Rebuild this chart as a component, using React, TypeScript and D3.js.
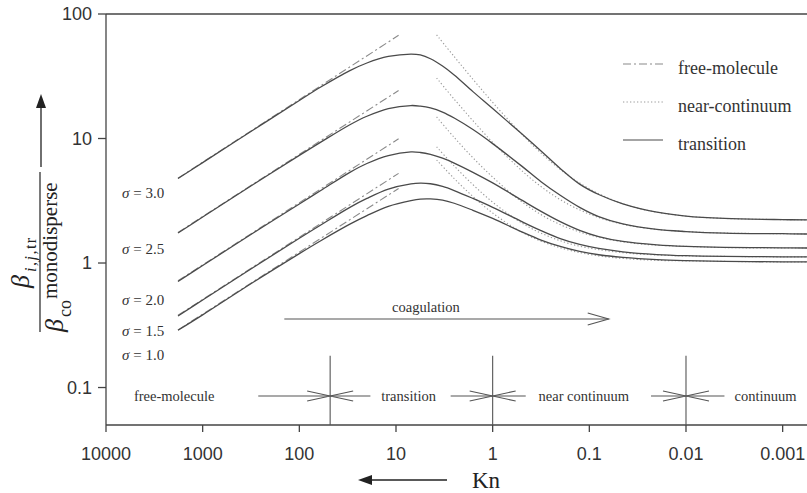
import React from "react";
import * as d3 from "d3";

// ---------- data ----------
const knTicks = [10000, 1000, 100, 10, 1, 0.1, 0.01, 0.001];
const knTickLabels = ["10000", "1000", "100", "10", "1", "0.1", "0.01", "0.001"];
const betaTicks = [0.1, 1, 10, 100];
const betaTickLabels = ["0.1", "1", "10", "100"];

const sigmas = ["3.0", "2.5", "2.0", "1.5", "1.0"];
const sigmaLabelValues = [3.65, 1.29, 0.505, 0.284, 0.182];

// transition curves
const trKn = [1800, 1000, 300, 100, 60, 30, 20, 12, 7, 5.6, 4.4, 3.3, 2.5, 1.6, 1.0, 0.5, 0.316, 0.2, 0.126, 0.08, 0.045, 0.02, 0.01, 0.004, 0.001, 0.00056];
const trSigma30 = [4.77, 6.4, 11.7, 20.2, 25.9, 35.1, 40.4, 45.6, 47.7, 46.9, 43.7, 38.2, 32.4, 23.8, 17.4, 10.9, 7.94, 5.75, 4.3, 3.55, 2.99, 2.56, 2.38, 2.28, 2.23, 2.22];
const trSigma25 = [1.74, 2.34, 4.27, 7.32, 9.35, 12.9, 15.1, 17.4, 18.4, 18.2, 17.6, 16.3, 14.6, 11.8, 9.1, 6.0, 4.5, 3.5, 2.8, 2.36, 2.06, 1.86, 1.79, 1.74, 1.72, 1.71];
const trSigma20 = [0.71, 0.955, 1.74, 2.98, 3.82, 5.35, 6.3, 7.3, 7.8, 7.72, 7.45, 6.95, 6.35, 5.35, 4.4, 3.2, 2.6, 2.15, 1.83, 1.63, 1.49, 1.4, 1.36, 1.335, 1.325, 1.32];
const trSigma15 = [0.375, 0.505, 0.92, 1.58, 2.02, 2.8, 3.3, 3.92, 4.32, 4.38, 4.33, 4.12, 3.82, 3.3, 2.8, 2.15, 1.82, 1.57, 1.41, 1.31, 1.23, 1.17, 1.145, 1.13, 1.122, 1.12];
const trSigma10 = [0.288, 0.383, 0.7, 1.19, 1.51, 2.05, 2.4, 2.85, 3.17, 3.26, 3.27, 3.2, 3.02, 2.65, 2.28, 1.78, 1.53, 1.36, 1.24, 1.165, 1.11, 1.065, 1.045, 1.03, 1.022, 1.02];

// free-molecule asymptotes (straight in log-log)
const fmKn = [1800, 9.4];
const fmSigma30 = [4.8, 67.4];
const fmSigma25 = [1.76, 24.3];
const fmSigma20 = [0.72, 9.94];
const fmSigma15 = [0.38, 5.25];
const fmSigma10 = [0.29, 3.97];

// near-continuum asymptotes
const ncKn = [3.8, 2.5, 1.6, 1.0, 0.6, 0.4, 0.25, 0.15, 0.08, 0.04, 0.02, 0.01, 0.004, 0.001, 0.00056];
const ncSigma30 = [67.9, 45.5, 29.9, 19.5, 12.6, 9.1, 6.5, 4.8, 3.6, 2.9, 2.56, 2.38, 2.28, 2.23, 2.22];
const ncSigma25 = [30.6, 20.7, 13.9, 9.3, 6.3, 4.75, 3.61, 2.85, 2.32, 2.01, 1.86, 1.79, 1.74, 1.72, 1.71];
const ncSigma20 = [14.9, 10.2, 7.0, 4.9, 3.46, 2.75, 2.21, 1.86, 1.61, 1.46, 1.39, 1.36, 1.33, 1.32, 1.32];
const ncSigma15 = [8.57, 6.02, 4.26, 3.08, 2.3, 1.9, 1.61, 1.41, 1.28, 1.2, 1.16, 1.14, 1.13, 1.12, 1.12];
const ncSigma10 = [6.72, 4.77, 3.42, 2.52, 1.92, 1.62, 1.4, 1.25, 1.14, 1.08, 1.05, 1.04, 1.03, 1.02, 1.02];

const trSeries = [trSigma30, trSigma25, trSigma20, trSigma15, trSigma10];
const fmSeries = [fmSigma30, fmSigma25, fmSigma20, fmSigma15, fmSigma10];
const ncSeries = [ncSigma30, ncSigma25, ncSigma20, ncSigma15, ncSigma10];

// regime annotations
const regimeBounds = [48, 1, 0.01];
const regimeNames = ["free-molecule", "transition", "near continuum", "continuum"];
const regimeNameKn = [1970, 7.4, 0.114, 0.0015];
const regimeArrowFromKn = [266, 18.4, 2.72, 0.455, 0.023, 0.004];
const regimeArrowToKn = [48, 48, 1, 1, 0.01, 0.01];
const regimeY = 0.0855;
const regimeBoundTop = 0.18;
const coagKn = [143, 0.063];
const coagY = 0.355;
const coagLabelKn = 4.9;
const coagLabelY = 0.435;

const legendNames = ["free-molecule", "near-continuum", "transition"];

// ---------- chart ----------
const W = 807;
const H = 493;
const x = d3.scaleLog().domain([1e4, 5.6e-4]).range([106, 807]);
const y = d3.scaleLog().domain([0.05, 100]).range([425, 14]);

const line = d3
  .line<[number, number]>()
  .x((d) => x(d[0]))
  .y((d) => y(d[1]))
  .curve(d3.curveCatmullRom.alpha(0.5));
const straight = d3
  .line<[number, number]>()
  .x((d) => x(d[0]))
  .y((d) => y(d[1]));

const serif = "'Liberation Serif', 'DejaVu Serif', serif";
const sans = "'Liberation Sans', Arial, sans-serif";
const ink = "#333";

function openHead(tipX: number, tipY: number, dir: number, len = 22, half = 5.5) {
  const bx = tipX - dir * len;
  return `M${bx},${tipY - half}L${tipX},${tipY}L${bx},${tipY + half}`;
}

export default function App() {
  const zip = (ks: number[], vs: number[]) => ks.map((k, i) => [k, vs[i]] as [number, number]);
  return (
    <svg
      width={W}
      height={H}
      style={{ position: "absolute", left: 0, top: 0, background: "#fff" }}
      fontFamily={serif}
    >
      {/* axes frame */}
      <g stroke="#444" strokeWidth={1.3} fill="none">
        <line x1={x(1e4)} x2={W} y1={y(100)} y2={y(100)} />
        <line x1={x(1e4)} x2={W} y1={y(0.05)} y2={y(0.05)} />
        <line x1={x(1e4)} x2={x(1e4)} y1={y(100)} y2={y(0.05)} />
        {knTicks.map((k) => (
          <line key={k} x1={x(k)} x2={x(k)} y1={y(0.05)} y2={y(0.05) + 7} />
        ))}
        {betaTicks.map((b) => (
          <line key={b} x1={x(1e4) - 8} x2={x(1e4)} y1={y(b)} y2={y(b)} />
        ))}
      </g>
      {knTicks.map((k, i) => (
        <text key={k} x={x(k)} y={460} textAnchor="middle" fontFamily={sans} fontSize={18} fill={ink}>
          {knTickLabels[i]}
        </text>
      ))}
      {betaTicks.map((b, i) => (
        <text key={b} x={92} y={y(b)} dy="0.36em" textAnchor="end" fontFamily={sans} fontSize={18} fill={ink}>
          {betaTickLabels[i]}
        </text>
      ))}

      {/* free-molecule asymptotes */}
      {fmSeries.map((s, i) => (
        <path key={"fm" + i} d={straight(zip(fmKn, s)) || ""} fill="none" stroke="#8a8a8a" strokeWidth={1.1} strokeDasharray="8,3,2,3" />
      ))}
      {/* near-continuum asymptotes */}
      {ncSeries.map((s, i) => (
        <path key={"nc" + i} d={line(zip(ncKn, s)) || ""} fill="none" stroke="#9a9a9a" strokeWidth={1.1} strokeDasharray="1.3,2.2" />
      ))}
      {/* transition */}
      {trSeries.map((s, i) => (
        <path key={"tr" + i} d={line(zip(trKn, s)) || ""} fill="none" stroke="#4a4a4a" strokeWidth={1.3} />
      ))}

      {/* sigma labels */}
      {sigmas.map((s, i) => (
        <text key={s} x={122} y={y(sigmaLabelValues[i])} dy="0.35em" fontSize={15} fill={ink}>
          <tspan fontStyle="italic">σ</tspan>
          <tspan> = {s}</tspan>
        </text>
      ))}

      {/* legend */}
      {legendNames.map((n, i) => {
        const ly = 64 + i * 38;
        return (
          <g key={n}>
            <line
              x1={623}
              x2={663}
              y1={ly}
              y2={ly}
              stroke={i === 2 ? "#4a4a4a" : i === 0 ? "#8a8a8a" : "#9a9a9a"}
              strokeWidth={1.2}
              strokeDasharray={i === 0 ? "8,3,2,3" : i === 1 ? "1.3,2.2" : undefined}
            />
            <text x={678} y={ly + 5} dy="0.3em" fontSize={18} fill={ink}>
              {n}
            </text>
          </g>
        );
      })}

      {/* coagulation arrow */}
      <g stroke="#555" strokeWidth={1.1} fill="none">
        <line x1={x(coagKn[0])} x2={x(coagKn[1])} y1={y(coagY)} y2={y(coagY)} />
        <path d={openHead(x(coagKn[1]), y(coagY), 1, 21, 6)} />
      </g>
      <text x={x(coagLabelKn)} y={y(coagLabelY)} dy="0.3em" textAnchor="middle" fontSize={14.5} fill={ink}>
        coagulation
      </text>

      {/* regimes */}
      <g stroke="#555" strokeWidth={1.1} fill="none">
        {regimeBounds.map((b) => (
          <line key={b} x1={x(b)} x2={x(b)} y1={y(regimeBoundTop)} y2={y(0.05)} />
        ))}
        {regimeArrowFromKn.map((f, i) => {
          const t = regimeArrowToKn[i];
          const dir = x(t) > x(f) ? 1 : -1;
          return (
            <g key={i}>
              <line x1={x(f)} x2={x(t)} y1={y(regimeY)} y2={y(regimeY)} />
              <path d={openHead(x(t), y(regimeY), dir, 23, 5)} />
            </g>
          );
        })}
      </g>
      {regimeNames.map((n, i) => (
        <text key={n} x={x(regimeNameKn[i])} y={y(regimeY)} dy="0.32em" textAnchor="middle" fontSize={14.5} fill={ink}>
          {n}
        </text>
      ))}

      {/* x-axis title */}
      <g>
        <line x1={447} x2={366} y1={480} y2={480} stroke="#222" strokeWidth={1.3} />
        <path d="M358,480L372,475L372,485Z" fill="#222" />
        <text x={472} y={480} dy="0.35em" fontSize={23} fill="#222">
          Kn
        </text>
      </g>

      {/* y-axis title */}
      <g>
        <line x1={41} x2={41} y1={167} y2={104} stroke="#222" strokeWidth={1.3} />
        <path d="M41,94L36,108L46,108Z" fill="#222" />
        <g transform="translate(40,252) rotate(-90)" fill="#222">
          <line x1={-80} x2={80} y1={0} y2={0} stroke="#222" strokeWidth={1.2} />
          <text x={-36} y={-11} fontSize={26} fontStyle="italic">
            β
          </text>
          <text x={-20} y={-4} fontSize={16} fontStyle="italic" letterSpacing={1.5}>
            i,j,<tspan fontStyle="normal">tr</tspan>
          </text>
          <text x={-80} y={23} fontSize={26} fontStyle="italic">
            β
          </text>
          <text x={-65} y={31} fontSize={18}>
            co
          </text>
          <text x={-47} y={17} fontSize={21}>
            monodisperse
          </text>
        </g>
      </g>
    </svg>
  );
}
